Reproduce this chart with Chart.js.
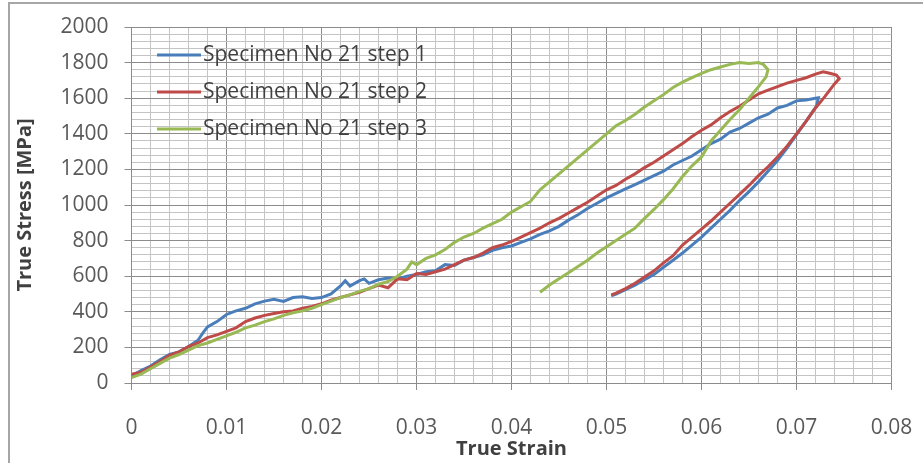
<!DOCTYPE html>
<html>
<head>
<meta charset="utf-8">
<script src="https://cdn.jsdelivr.net/npm/chart.js@4/dist/chart.umd.min.js"></script>
<style>
    html, body { margin: 0; padding: 0; background: #ffffff; }
    #wrap { width: 923px; height: 463px; position: relative; }
</style>
</head>
<body>
<div id="wrap"><canvas id="stress-strain-chart"></canvas></div>
<script>
// 图例名称
const seriesNames = ['Specimen No 21 step 1', 'Specimen No 21 step 2', 'Specimen No 21 step 3'];

// step 1 (blue)
const step1Strain = [0, 0.001, 0.002, 0.003, 0.004, 0.005, 0.006, 0.007, 0.0075, 0.008, 0.009, 0.010, 0.011, 0.012, 0.013, 0.014, 0.015, 0.016, 0.017, 0.018, 0.019, 0.020, 0.021, 0.022, 0.0225, 0.023, 0.024, 0.0245, 0.025, 0.026, 0.027, 0.028, 0.029, 0.030, 0.031, 0.032, 0.033, 0.034, 0.035, 0.036, 0.037, 0.038, 0.039, 0.040, 0.041, 0.042, 0.043, 0.044, 0.045, 0.046, 0.047, 0.048, 0.049, 0.050, 0.051, 0.052, 0.053, 0.054, 0.055, 0.056, 0.057, 0.058, 0.059, 0.060, 0.061, 0.062, 0.063, 0.064, 0.065, 0.066, 0.067, 0.068, 0.069, 0.070, 0.071, 0.072, 0.0723,
    0.0721, 0.071, 0.070, 0.069, 0.068, 0.067, 0.066, 0.065, 0.064, 0.063, 0.062, 0.061, 0.060, 0.059, 0.058, 0.057, 0.056, 0.055, 0.054, 0.053, 0.052, 0.051, 0.0505];
const step1Stress = [40, 70, 95, 130, 160, 175, 205, 240, 280, 315, 345, 385, 405, 420, 445, 460, 470, 458, 480, 485, 475, 480, 500, 545, 575, 545, 575, 585, 560, 580, 590, 585, 600, 610, 625, 630, 665, 660, 690, 705, 720, 745, 760, 770, 790, 810, 835, 855, 880, 915, 945, 980, 1010, 1040, 1065, 1090, 1115, 1140, 1165, 1190, 1225, 1250, 1275, 1310, 1345, 1370, 1410, 1430, 1460, 1490, 1510, 1545, 1560, 1585, 1590, 1600, 1602,
    1555, 1470, 1395, 1320, 1250, 1190, 1130, 1075, 1025, 970, 920, 870, 820, 775, 730, 690, 650, 610, 580, 550, 525, 500, 490];

// step 2 (red)
const step2Strain = [0, 0.001, 0.002, 0.003, 0.004, 0.005, 0.006, 0.007, 0.008, 0.009, 0.010, 0.011, 0.012, 0.013, 0.014, 0.015, 0.016, 0.017, 0.018, 0.019, 0.020, 0.021, 0.022, 0.023, 0.024, 0.025, 0.026, 0.027, 0.028, 0.029, 0.030, 0.031, 0.032, 0.033, 0.034, 0.035, 0.036, 0.037, 0.038, 0.039, 0.040, 0.041, 0.042, 0.043, 0.044, 0.045, 0.046, 0.047, 0.048, 0.049, 0.050, 0.051, 0.052, 0.053, 0.054, 0.055, 0.056, 0.057, 0.058, 0.059, 0.060, 0.061, 0.062, 0.063, 0.064, 0.065, 0.066, 0.067, 0.068, 0.069, 0.070, 0.071, 0.072, 0.0728, 0.0735, 0.0742, 0.0745,
    0.074, 0.073, 0.072, 0.071, 0.070, 0.069, 0.068, 0.067, 0.066, 0.065, 0.064, 0.063, 0.062, 0.061, 0.060, 0.059, 0.058, 0.057, 0.056, 0.055, 0.054, 0.053, 0.052, 0.051, 0.0505];
const step2Stress = [50, 60, 90, 120, 155, 175, 205, 225, 255, 270, 290, 310, 345, 365, 380, 390, 400, 405, 420, 430, 445, 465, 480, 495, 510, 530, 550, 535, 585, 580, 615, 610, 625, 640, 665, 690, 705, 730, 760, 775, 795, 820, 845, 870, 900, 925, 955, 985, 1015, 1050, 1085, 1110, 1145, 1175, 1210, 1240, 1275, 1310, 1345, 1385, 1420, 1450, 1490, 1525, 1555, 1590, 1625, 1645, 1665, 1685, 1700, 1715, 1735, 1748, 1740, 1730, 1710,
    1680, 1610, 1545, 1470, 1400, 1330, 1270, 1215, 1165, 1110, 1060, 1010, 960, 910, 865, 820, 775, 715, 675, 630, 595, 560, 530, 505, 495];

// step 3 (green)
const step3Strain = [0, 0.001, 0.002, 0.003, 0.004, 0.005, 0.006, 0.007, 0.008, 0.009, 0.010, 0.011, 0.012, 0.013, 0.014, 0.015, 0.016, 0.017, 0.018, 0.019, 0.020, 0.021, 0.022, 0.023, 0.024, 0.025, 0.026, 0.027, 0.028, 0.029, 0.0295, 0.030, 0.031, 0.032, 0.033, 0.034, 0.035, 0.036, 0.037, 0.038, 0.039, 0.040, 0.041, 0.042, 0.043, 0.044, 0.045, 0.046, 0.047, 0.048, 0.049, 0.050, 0.051, 0.052, 0.053, 0.054, 0.055, 0.056, 0.057, 0.058, 0.059, 0.060, 0.061, 0.062, 0.063, 0.064, 0.065, 0.066, 0.0665, 0.067,
    0.0668, 0.066, 0.065, 0.064, 0.063, 0.062, 0.061, 0.060, 0.059, 0.058, 0.057, 0.056, 0.055, 0.054, 0.053, 0.052, 0.051, 0.050, 0.049, 0.048, 0.047, 0.046, 0.045, 0.044, 0.043];
const step3Stress = [30, 50, 80, 110, 140, 160, 185, 210, 225, 245, 265, 285, 310, 325, 345, 360, 380, 395, 405, 420, 440, 460, 480, 495, 515, 530, 555, 570, 600, 640, 680, 665, 700, 720, 750, 790, 820, 840, 870, 895, 920, 960, 990, 1020, 1085, 1130, 1175, 1220, 1265, 1310, 1355, 1400, 1445, 1475, 1510, 1550, 1585, 1620, 1660, 1690, 1715, 1740, 1760, 1775, 1790, 1800, 1795, 1800, 1790, 1760,
    1720, 1665, 1600, 1535, 1480, 1420, 1360, 1270, 1220, 1160, 1090, 1030, 975, 925, 870, 835, 800, 765, 730, 690, 655, 620, 585, 550, 510];

const seriesColors = ['#4A7EBB', '#BE4B48', '#98B954'];

function toPoints(xs, ys) {
    return xs.map((x, i) => ({ x: x, y: ys[i] }));
}

// 外框
const framePlugin = {
    id: 'frame',
    beforeDraw(chart) {
        const ctx = chart.ctx;
        ctx.save();
        ctx.fillStyle = '#ffffff';
        ctx.fillRect(0, 0, chart.width, chart.height);
        ctx.strokeStyle = '#a6a6a6';
        ctx.lineWidth = 2;
        ctx.strokeRect(9, 3, chart.width + 20, chart.height + 20);
        ctx.restore();
    }
};

// 图例 (画在绘图区内左上角)
const insideLegendPlugin = {
    id: 'insideLegend',
    afterDatasetsDraw(chart) {
        const ctx = chart.ctx;
        ctx.save();
        ctx.font = '21px "Open Sans"';
        ctx.textBaseline = 'middle';
        ctx.textAlign = 'left';
        seriesNames.forEach((name, i) => {
            const y = 55 + i * 37;
            ctx.strokeStyle = seriesColors[i];
            ctx.lineWidth = 3;
            ctx.beginPath();
            ctx.moveTo(157, y);
            ctx.lineTo(201, y);
            ctx.stroke();
            ctx.fillStyle = '#404040';
            ctx.fillText(name, 203, y);
        });
        ctx.restore();
    }
};

const ctx = document.getElementById('stress-strain-chart');
const chart = new Chart(ctx, {
    type: 'scatter',
    data: {
        datasets: [
            { label: seriesNames[0], data: toPoints(step1Strain, step1Stress), borderColor: seriesColors[0], order: 3 },
            { label: seriesNames[1], data: toPoints(step2Strain, step2Stress), borderColor: seriesColors[1], order: 2 },
            { label: seriesNames[2], data: toPoints(step3Strain, step3Stress), borderColor: seriesColors[2], order: 1 }
        ].map(d => Object.assign(d, {
            showLine: true,
            pointRadius: 0,
            borderWidth: 3,
            tension: 0,
            fill: false
        }))
    },
    options: {
        responsive: true,
        maintainAspectRatio: false,
        animation: false,
        layout: { padding: { left: 10, top: 27, right: 31.5, bottom: 0 } },
        plugins: {
            legend: { display: false },
            tooltip: { enabled: false }
        },
        scales: {
            x: {
                type: 'linear',
                min: 0,
                max: 0.08,
                afterFit: (scale) => {
                    scale.height = 80;
                    scale.paddingLeft = 0;
                    scale.paddingRight = 0;
                },
                ticks: {
                    stepSize: 0.002,
                    maxTicksLimit: 100,
                    autoSkip: false,
                    maxRotation: 0,
                    padding: 25,
                    color: '#595959',
                    font: { family: '"Open Sans"', size: 21 },
                    callback: function(value) {
                        const k = Math.round(value * 1000);
                        if (k % 10 !== 0) return '';
                        return String(k / 1000);
                    }
                },
                grid: {
                    color: (c) => (Math.round(c.tick.value * 1000) % 10 === 0 ? '#8c8c8c' : '#c4c4c4'),
                    tickColor: (c) => (Math.round(c.tick.value * 1000) % 10 === 0 ? '#8c8c8c' : 'rgba(0,0,0,0)'),
                    tickLength: 7,
                    lineWidth: 1
                },
                border: { color: '#8c8c8c' },
                title: {
                    display: true,
                    text: 'True Strain',
                    color: '#404040',
                    font: { family: '"Open Sans"', size: 20, weight: 'bold' },
                    padding: { top: 0, bottom: 2 }
                }
            },
            y: {
                type: 'linear',
                min: 0,
                max: 2000,
                afterFit: (scale) => {
                    scale.width = 121.5;
                    scale.paddingTop = 0;
                    scale.paddingBottom = 0;
                },
                ticks: {
                    stepSize: 40,
                    maxTicksLimit: 100,
                    autoSkip: false,
                    padding: 16,
                    color: '#595959',
                    font: { family: '"Open Sans"', size: 21 },
                    callback: function(value) {
                        return Math.round(value) % 200 === 0 ? String(Math.round(value)) : '';
                    }
                },
                grid: {
                    color: (c) => (Math.round(c.tick.value) % 200 === 0 ? '#8c8c8c' : '#c4c4c4'),
                    tickColor: (c) => (Math.round(c.tick.value) % 200 === 0 ? '#8c8c8c' : 'rgba(0,0,0,0)'),
                    tickLength: 7,
                    lineWidth: 1
                },
                border: { color: '#8c8c8c' },
                title: {
                    display: true,
                    text: 'True Stress [MPa]',
                    color: '#404040',
                    font: { family: '"Open Sans"', size: 20, weight: 'bold' },
                    padding: { top: 3, bottom: 0 }
                }
            }
        }
    },
    plugins: [framePlugin, insideLegendPlugin]
});
</script>
</body>
</html>
